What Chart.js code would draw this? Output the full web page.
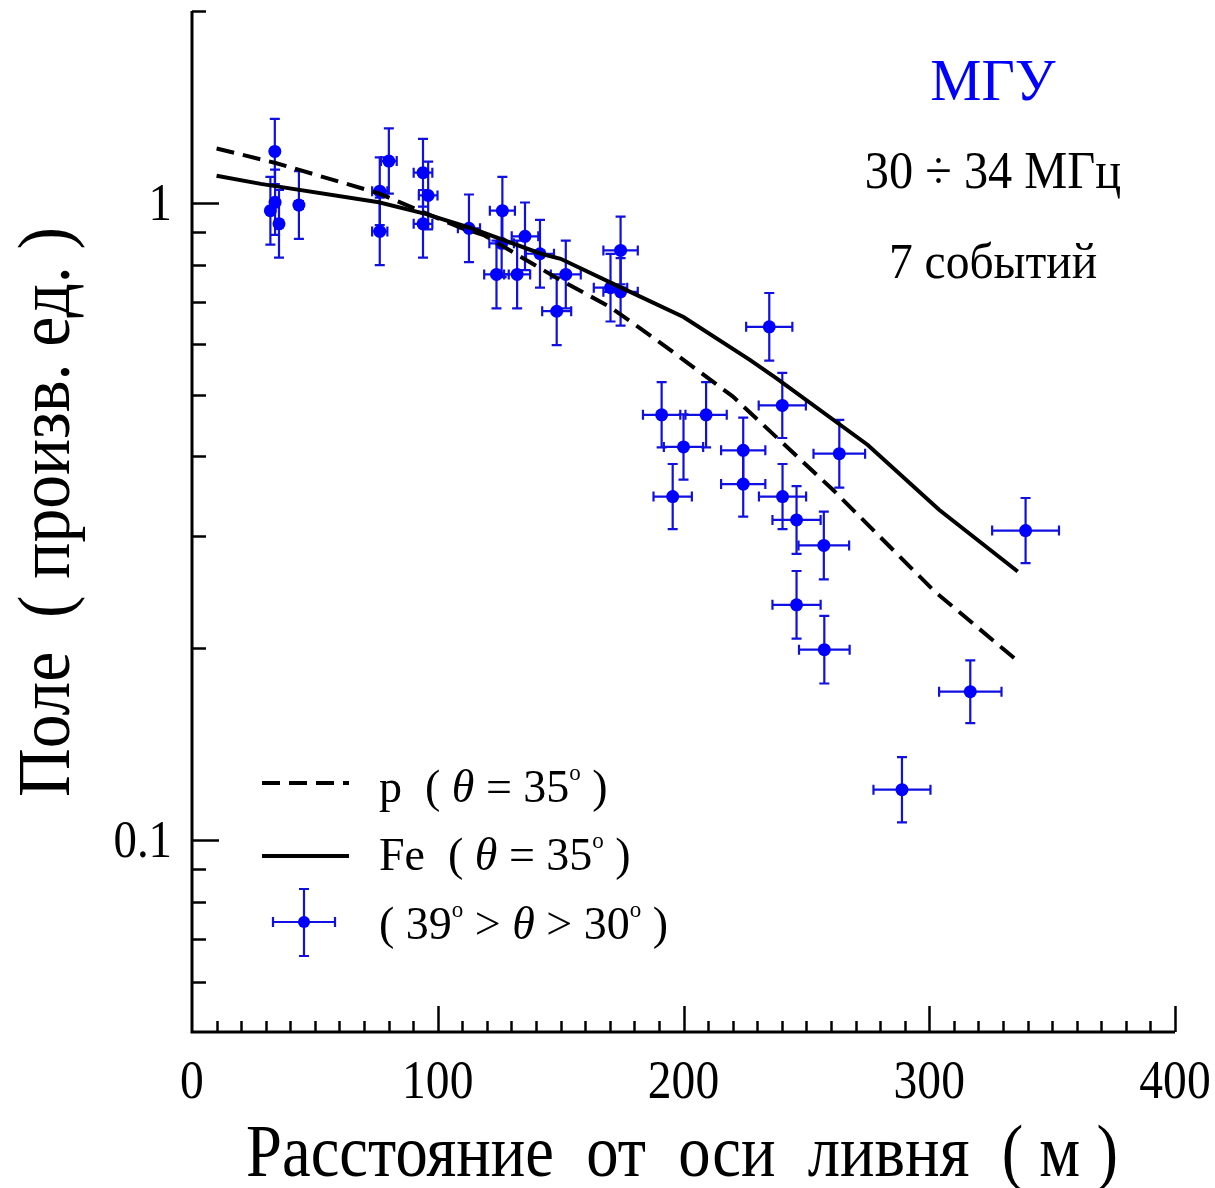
<!DOCTYPE html>
<html>
<head>
<meta charset="utf-8">
<script src="https://cdn.jsdelivr.net/npm/chart.js@4.4.1/dist/chart.umd.min.js"></script>
<style>
    html, body { margin: 0; padding: 0; background: #fff; }
    #wrap { width: 1215px; height: 1188px; }
</style>
</head>
<body>
<div id="wrap"><canvas id="chart" width="1215" height="1188"></canvas></div>
<script>
(function () {
    'use strict';

    // measured points: distance from shower axis (m), field (arb. units)
    var distance = [33.7, 31.9, 33.8, 35.4, 43.5, 76.4, 76.4, 80.1, 94.0, 96.1,
        94.0, 112.7, 126.3, 126.0, 123.9, 132.3, 135.5, 141.6, 152.1, 148.4,
        174.4, 170.3, 174.4, 234.9, 191.1, 209.2, 200.0, 195.6, 224.3, 224.3,
        240.2, 263.4, 240.3, 246.0, 257.1, 246.0, 257.3, 316.7, 288.9, 339.2];
    var field = [1.204, 0.972, 1.002, 0.927, 0.992, 0.902, 1.043, 1.163, 1.115, 1.027,
        0.927, 0.912, 0.972, 0.864, 0.772, 0.772, 0.886, 0.832, 0.772, 0.676,
        0.842, 0.736, 0.725, 0.639, 0.465, 0.465, 0.414, 0.346, 0.409, 0.362,
        0.481, 0.404, 0.346, 0.318, 0.290, 0.234, 0.199, 0.171, 0.120, 0.306];
    // horizontal error (m)
    var distErr = [1.2, 1.2, 1.3, 1.3, 1.6, 3.1, 3.1, 3.2, 3.8, 3.8,
        3.8, 4.5, 5.1, 5.0, 5.0, 5.3, 5.4, 5.7, 6.1, 5.9,
        7.0, 6.8, 7.0, 9.4, 7.6, 8.4, 8.0, 7.8, 9.0, 9.0,
        9.6, 10.5, 9.6, 9.8, 10.3, 9.8, 10.3, 12.7, 11.6, 13.6];
    // vertical error (relative)
    var fieldErr = [0.125, 0.13, 0.125, 0.13, 0.13, 0.13, 0.13, 0.125, 0.13, 0.13,
        0.13, 0.13, 0.13, 0.13, 0.13, 0.13, 0.13, 0.13, 0.13, 0.13,
        0.13, 0.13, 0.13, 0.13, 0.125, 0.125, 0.125, 0.125, 0.125, 0.125,
        0.125, 0.13, 0.125, 0.13, 0.13, 0.13, 0.13, 0.12, 0.125, 0.125];

    // model curves, theta = 35 deg
    var pDist = [10, 34, 76, 94, 110, 119, 150, 170, 193, 220, 261, 302, 336];
    var pField = [1.217, 1.155, 1.035, 0.967, 0.912, 0.889, 0.756, 0.687, 0.594, 0.497, 0.354, 0.246, 0.191];
    var feDist = [10, 28, 76, 95, 113, 142, 150, 177, 200, 227, 238, 275, 304, 336];
    var feField = [1.103, 1.071, 1.002, 0.961, 0.914, 0.832, 0.817, 0.729, 0.662, 0.567, 0.530, 0.417, 0.330, 0.264];

    var xMajor = [0, 100, 200, 300, 400];
    var yMajor = [1, 0.1];
    var yMajorLabels = ['1', '0.1'];

    var SERIF = '"Liberation Serif", "Times New Roman", serif',
        BLUE = '#0000ff',
        BAR_BLUE = '#1010e0';

    function toPoints (xs, ys) {
        return xs.map(function (x, i) {
            return {x: x, y: ys[i]};
        });
    }

    // text squeezed horizontally by sx
    function text (ctx, str, x, y, size, align, sx, color) {
        ctx.save();
        ctx.font = size + 'px ' + SERIF;
        ctx.fillStyle = color || '#000';
        var w = ctx.measureText(str).width * sx;
        var left = align === 'center' ? x - w / 2 : (align === 'right' ? x - w : x);
        ctx.translate(left, y);
        ctx.scale(sx, 1);
        ctx.textAlign = 'left';
        ctx.textBaseline = 'alphabetic';
        ctx.fillText(str, 0, 0);
        ctx.restore();
    }

    // parts: [string, style] ; style n = normal, i = italic, s = superscript
    function rich (ctx, parts, x, y, size) {
        ctx.save();
        ctx.fillStyle = '#000';
        ctx.textBaseline = 'alphabetic';
        var cx = x;
        parts.forEach(function (p) {
            var st = p[1] || 'n',
                fs = st === 's' ? size * 0.5 : size,
                dy = st === 's' ? -size * 0.47 : 0;
            ctx.font = (st === 'i' ? 'italic ' : '') + fs + 'px ' + SERIF;
            ctx.fillText(p[0], cx, y + dy);
            cx += ctx.measureText(p[0]).width;
        });
        ctx.restore();
    }

    function errorCross (ctx, cx, cy, x0, x1, y0, y1, cap) {
        ctx.beginPath();
        ctx.moveTo(cx, y0); ctx.lineTo(cx, y1);
        ctx.moveTo(cx - cap, y0); ctx.lineTo(cx + cap, y0);
        ctx.moveTo(cx - cap, y1); ctx.lineTo(cx + cap, y1);
        if (x1 - x0 > 3) {
            ctx.moveTo(x0, cy); ctx.lineTo(x1, cy);
            ctx.moveTo(x0, cy - cap); ctx.lineTo(x0, cy + cap);
            ctx.moveTo(x1, cy - cap); ctx.lineTo(x1, cy + cap);
        }
        ctx.stroke();
    }

    var errorBars = {
        id: 'errorBars',
        beforeDatasetDraw: function (chart, args) {
            if (args.index !== 2) {
                return;
            }
            var xs = chart.scales.x, ys = chart.scales.y, c = chart.ctx;
            c.save();
            c.strokeStyle = BAR_BLUE;
            c.lineWidth = 2.2;
            distance.forEach(function (d, i) {
                errorCross(c,
                    xs.getPixelForValue(d), ys.getPixelForValue(field[i]),
                    xs.getPixelForValue(d - distErr[i]), xs.getPixelForValue(d + distErr[i]),
                    ys.getPixelForValue(field[i] * (1 + fieldErr[i])),
                    ys.getPixelForValue(field[i] / (1 + fieldErr[i])), 5);
            });
            c.restore();
        }
    };

    var decorations = {
        id: 'decorations',
        afterDraw: function (chart) {
            var c = chart.ctx, xs = chart.scales.x, ys = chart.scales.y,
                area = chart.chartArea, v, px, py, k;

            c.save();
            c.strokeStyle = '#000';
            c.lineCap = 'butt';

            // axis lines
            c.lineWidth = 3;
            c.beginPath();
            c.moveTo(area.left, area.top);
            c.lineTo(area.left, area.bottom);
            c.lineTo(area.right, area.bottom);
            c.stroke();

            // x ticks (inward)
            c.lineWidth = 2.5;
            for (v = 10; v <= 400; v += 10) {
                px = Math.round(xs.getPixelForValue(v)) + 0.5;
                c.beginPath();
                c.moveTo(px, area.bottom);
                c.lineTo(px, area.bottom - (v % 100 === 0 ? 26 : 11));
                c.stroke();
            }

            // y ticks (inward), log decades
            [0.01, 0.1, 1].forEach(function (dec) {
                for (k = 1; k <= 9; k++) {
                    v = dec * k;
                    if (v < 0.0501 || v > 2.001) {
                        continue;
                    }
                    py = Math.round(ys.getPixelForValue(v)) + 0.5;
                    c.beginPath();
                    c.moveTo(area.left, py);
                    c.lineTo(area.left + (k === 1 ? 27 : 14), py);
                    c.stroke();
                }
            });
            c.restore();

            // tick labels
            xMajor.forEach(function (val) {
                text(c, String(val), xs.getPixelForValue(val), 1098, 54, 'center', 0.88);
            });
            yMajor.forEach(function (val, i) {
                text(c, yMajorLabels[i], 172, ys.getPixelForValue(val) + 17, 52, 'right', 0.9);
            });

            // axis titles
            text(c, 'Расстояние  от  оси  ливня  ( м )', 682, 1176, 73, 'center', 0.885);
            c.save();
            c.translate(69, 512);
            c.rotate(-Math.PI / 2);
            text(c, 'Поле  ( произв. ед. )', 0, 0, 75, 'center', 0.9);
            c.restore();

            // annotations
            text(c, 'МГУ', 993, 100, 60, 'center', 0.96, BLUE);
            text(c, '30 ÷ 34 МГц', 993, 188, 52, 'center', 0.93);
            text(c, '7 событий', 993, 278, 50, 'center', 0.95);

            // legend
            c.save();
            c.strokeStyle = '#000';
            c.lineWidth = 4;
            c.setLineDash([18, 9]);
            c.beginPath();
            c.moveTo(262, 783);
            c.lineTo(349, 783);
            c.stroke();
            c.setLineDash([]);
            c.beginPath();
            c.moveTo(262, 856);
            c.lineTo(349, 856);
            c.stroke();
            c.strokeStyle = BAR_BLUE;
            c.lineWidth = 2.2;
            errorCross(c, 304, 922, 273, 335, 889, 956, 5);
            c.fillStyle = BLUE;
            c.beginPath();
            c.arc(304, 922, 6, 0, Math.PI * 2);
            c.fill();
            c.restore();

            rich(c, [['p  ( '], ['θ', 'i'], [' = 35'], ['o', 's'], [' )']], 379, 802, 46);
            rich(c, [['Fe  ( '], ['θ', 'i'], [' = 35'], ['o', 's'], [' )']], 379, 870, 46);
            rich(c, [['( 39'], ['o', 's'], [' > '], ['θ', 'i'], [' > 30'], ['o', 's'], [' )']], 379, 939, 46);
        }
    };

    new Chart(document.getElementById('chart').getContext('2d'), {
        type: 'scatter',
        data: {
            datasets: [{
                label: 'p',
                type: 'line',
                data: toPoints(pDist, pField),
                borderColor: '#000',
                borderWidth: 4,
                borderDash: [18, 9],
                pointRadius: 0,
                fill: false,
                tension: 0
            }, {
                label: 'Fe',
                type: 'line',
                data: toPoints(feDist, feField),
                borderColor: '#000',
                borderWidth: 4,
                pointRadius: 0,
                fill: false,
                tension: 0
            }, {
                label: '39 > theta > 30',
                data: toPoints(distance, field),
                pointRadius: 6.5,
                backgroundColor: BLUE,
                borderWidth: 0
            }]
        },
        options: {
            responsive: false,
            animation: false,
            layout: {padding: {top: 11, right: 40, left: 0, bottom: 0}},
            plugins: {legend: {display: false}, tooltip: {enabled: false}},
            scales: {
                x: {
                    type: 'linear', min: 0, max: 400,
                    ticks: {display: false}, grid: {display: false}, border: {display: false},
                    afterFit: function (s) { s.height = 156; }
                },
                y: {
                    type: 'logarithmic', min: 0.05, max: 2,
                    ticks: {display: false}, grid: {display: false}, border: {display: false},
                    afterFit: function (s) { s.width = 192; }
                }
            }
        },
        plugins: [errorBars, decorations]
    });
}());
</script>
</body>
</html>
